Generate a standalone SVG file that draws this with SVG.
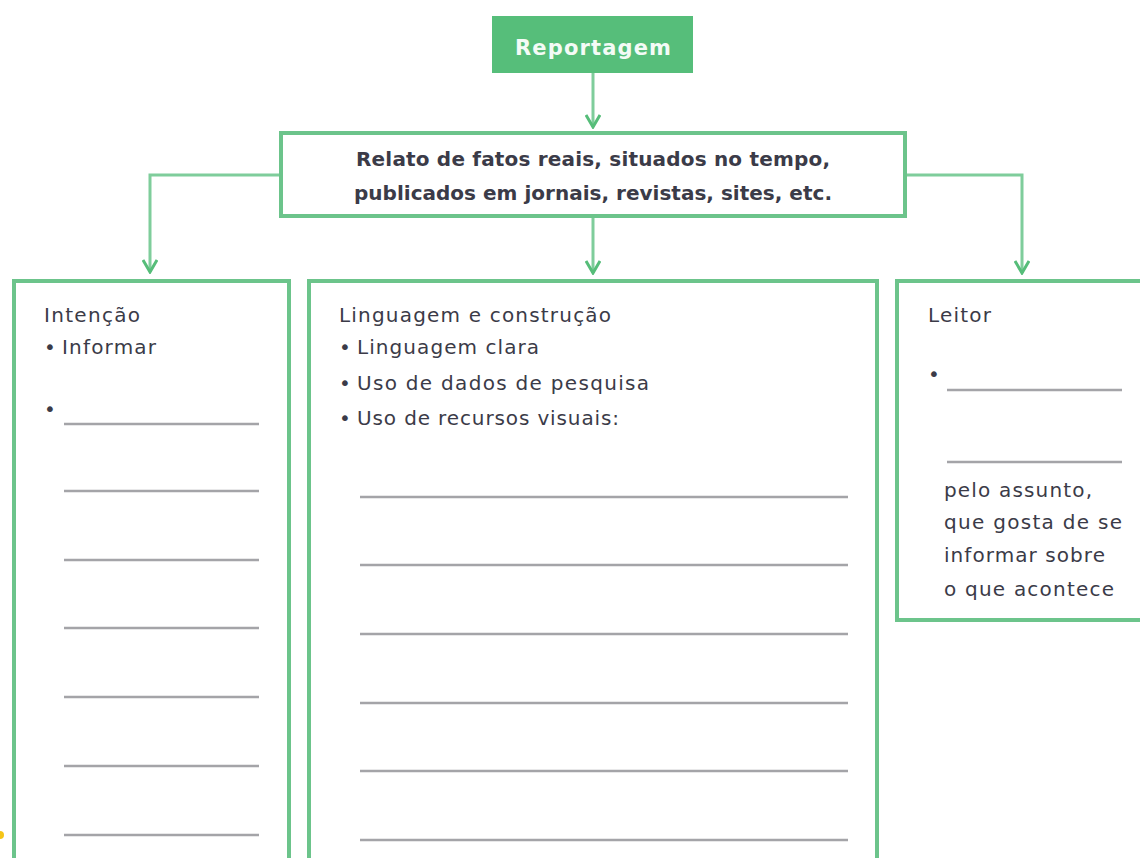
<svg xmlns="http://www.w3.org/2000/svg" width="1140" height="858" viewBox="0 0 1140 858">
<style>
.box{fill:#fff;stroke:#6cc48b;stroke-width:4}
.conn{fill:none;stroke:#7fcd9b;stroke-width:3}
.t{font-family:"DejaVu Sans","Liberation Sans",sans-serif;font-size:20px;fill:#3b3b48}
.b{font-weight:bold}
.ln{stroke:#a4a4a8;stroke-width:2.5}
</style>
<defs>
<marker id="ah" viewBox="0 0 16 16" refX="14" refY="8" markerWidth="16" markerHeight="16" markerUnits="userSpaceOnUse" orient="auto">
<path d="M2,1 L14,8 L2,15" fill="none" stroke="#56bd79" stroke-width="3"/>
</marker>
</defs>
<rect width="1140" height="858" fill="#fff"/>
<g id="connectors">
<line class="conn" x1="593" y1="73" x2="593" y2="127" marker-end="url(#ah)"/>
<polyline class="conn" points="280,175 150,175 150,272" marker-end="url(#ah)"/>
<line class="conn" x1="593" y1="217" x2="593" y2="273" marker-end="url(#ah)"/>
<polyline class="conn" points="906,175 1022,175 1022,273" marker-end="url(#ah)"/>
</g>
<g id="reportagem">
<rect x="492" y="16" width="201" height="57" fill="#56be7a"/>
<text class="t b" x="593" y="55" text-anchor="middle" style="fill:#f4fbf6;font-size:21px" textLength="156">Reportagem</text>
</g>
<g id="relato">
<rect class="box" x="281" y="133" width="624" height="83"/>
<text class="t b" x="593" y="166" text-anchor="middle" textLength="474">Relato de fatos reais, situados no tempo,</text>
<text class="t b" x="593" y="200" text-anchor="middle" textLength="478">publicados em jornais, revistas, sites, etc.</text>
</g>
<g id="intencao">
<rect class="box" x="14" y="281" width="275" height="600"/>
<text class="t" x="44" y="322" textLength="96">Intenção</text>
<text class="t" x="44" y="354"><tspan>•</tspan><tspan x="62" textLength="94">Informar</tspan></text>
<text class="t" x="44" y="416">•</text>
<line class="ln" x1="64" y1="424" x2="259" y2="424"/>
<line class="ln" x1="64" y1="491" x2="259" y2="491"/>
<line class="ln" x1="64" y1="560" x2="259" y2="560"/>
<line class="ln" x1="64" y1="628" x2="259" y2="628"/>
<line class="ln" x1="64" y1="697" x2="259" y2="697"/>
<line class="ln" x1="64" y1="766" x2="259" y2="766"/>
<line class="ln" x1="64" y1="835" x2="259" y2="835"/>
</g>
<g id="linguagem">
<rect class="box" x="309" y="281" width="568" height="600"/>
<text class="t" x="339" y="322" textLength="272">Linguagem e construção</text>
<text class="t" x="339" y="354"><tspan>•</tspan><tspan x="357" textLength="182">Linguagem clara</tspan></text>
<text class="t" x="339" y="390"><tspan>•</tspan><tspan x="357" textLength="292">Uso de dados de pesquisa</tspan></text>
<text class="t" x="339" y="425"><tspan>•</tspan><tspan x="357" textLength="262">Uso de recursos visuais:</tspan></text>
<line class="ln" x1="360" y1="497" x2="848" y2="497"/>
<line class="ln" x1="360" y1="565" x2="848" y2="565"/>
<line class="ln" x1="360" y1="634" x2="848" y2="634"/>
<line class="ln" x1="360" y1="703" x2="848" y2="703"/>
<line class="ln" x1="360" y1="771" x2="848" y2="771"/>
<line class="ln" x1="360" y1="840" x2="848" y2="840"/>
</g>
<g id="leitor">
<rect class="box" x="897" y="281" width="260" height="339"/>
<text class="t" x="928" y="322" textLength="63">Leitor</text>
<text class="t" x="928" y="381">•</text>
<line class="ln" x1="947" y1="390" x2="1122" y2="390"/>
<line class="ln" x1="947" y1="462" x2="1122" y2="462"/>
<text class="t" x="944" y="497" textLength="148">pelo assunto,</text>
<text class="t" x="944" y="529" textLength="178">que gosta de se</text>
<text class="t" x="944" y="562" textLength="161">informar sobre</text>
<text class="t" x="944" y="596" textLength="170">o que acontece</text>
</g>
<circle cx="0" cy="835" r="4" fill="#f5c518"/>
</svg>
